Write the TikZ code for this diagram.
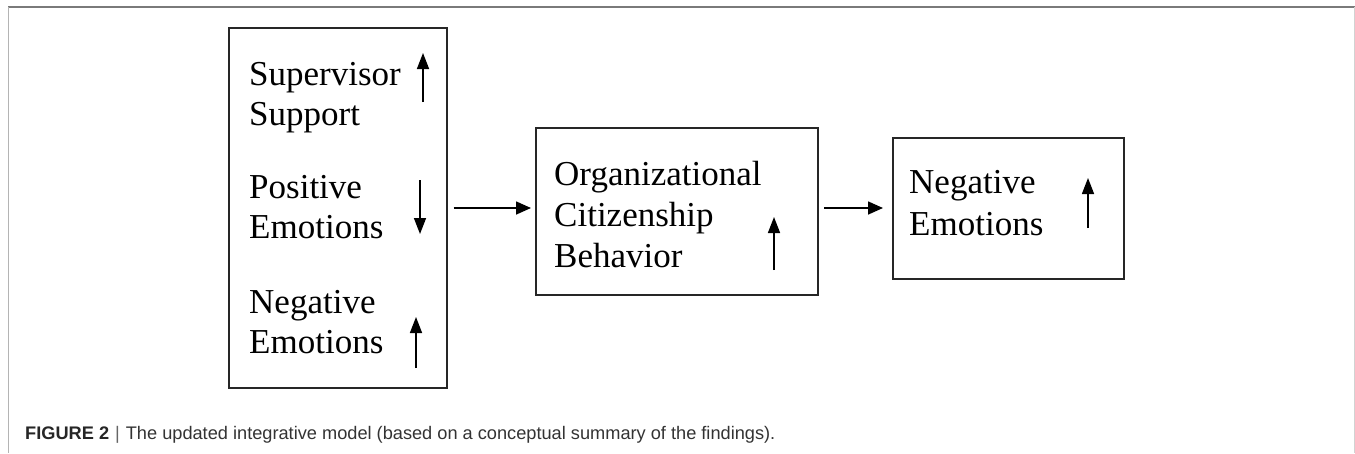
\documentclass[tikz,border=0pt]{standalone}
\usepackage{fontspec}
\setmainfont{Liberation Serif}
\newfontfamily\capfont{Liberation Sans}
\usetikzlibrary{arrows.meta}
\definecolor{framegray}{HTML}{7A7A7A}
\definecolor{sidegray}{HTML}{B4B4B4}
\definecolor{captext}{HTML}{333333}
\begin{document}
\begin{tikzpicture}[x=1pt,y=-1pt,
  box/.style={draw=black!85, line width=2pt, inner sep=0pt},
  lbl/.style={anchor=base west, inner sep=0pt, font=\fontsize{35}{41}\selectfont},
  link/.style={line width=1.6pt, -{Triangle[length=15pt,width=13pt]}},
  ind/.style={line width=1.5pt, -{Triangle[length=16pt,width=12pt]}}]
\useasboundingbox (0,0) rectangle (1355,453);

% outer frame
\draw[framegray, line width=1.6pt] (8,7) -- (1355,7);
\draw[sidegray, line width=1pt] (8,7) -- (8,453);
\draw[sidegray!60, line width=1pt] (1354,7) -- (1354,453);

% boxes
\node[box, minimum width=218pt, minimum height=360pt] (lbox) at (337.5,208) {};
\node[box, minimum width=282pt, minimum height=167pt] (mbox) at (677,211.5) {};
\node[box, minimum width=231pt, minimum height=141pt] (rbox) at (1008.5,208) {};

% left box labels
\node[lbl] (ss1) at (249,85) {Supervisor};
\node[lbl] (ss2) at (249,125) {Support};
\node[lbl] (pe1) at (249,198) {Positive};
\node[lbl] (pe2) at (249,238) {Emotions};
\node[lbl] (ne1) at (249,313) {Negative};
\node[lbl] (ne2) at (249,353) {Emotions};
\draw[ind] (423,102) -- (423,53);
\draw[ind] (420,180) -- (420,234);
\draw[ind] (416,368) -- (416,317);

% middle box labels
\node[lbl] (ocb1) at (554,185) {Organizational};
\node[lbl] (ocb2) at (554,226) {Citizenship};
\node[lbl] (ocb3) at (554,267) {Behavior};
\draw[ind] (774,270) -- (774,217);

% right box labels
\node[lbl] (rn1) at (909,193) {Negative};
\node[lbl] (rn2) at (909,235) {Emotions};
\draw[ind] (1088,228) -- (1088,178);

% connectors
\draw[link, shorten <=6pt, shorten >=4pt] (lbox.east) -- (mbox.west |- lbox.east);
\draw[link, shorten <=5pt, shorten >=9pt] (mbox.east |- rbox.west) -- (rbox.west);

% caption
\node[anchor=base west, inner sep=0pt, text=captext, font=\capfont\fontsize{18.2}{21}\selectfont] (cap) at (25,439)
  {\textbf{\color{black!85}FIGURE 2}\hspace{6pt}{\color{black!60}|}\hspace{6pt}The updated integrative model (based on a conceptual summary of the findings).};
\end{tikzpicture}
\end{document}
